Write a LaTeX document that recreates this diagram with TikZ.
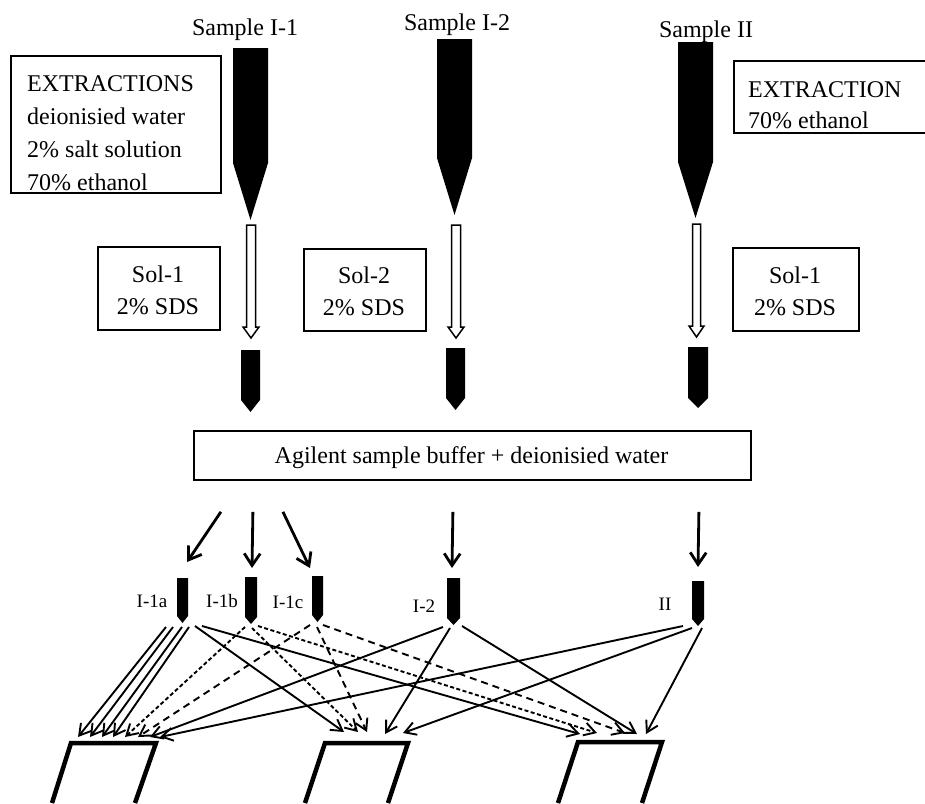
\documentclass[tikz,border=0pt]{standalone}
\usepackage{fontspec}
\setmainfont{Liberation Serif}
\usetikzlibrary{arrows.meta,calc}
\begin{document}
\begin{tikzpicture}[x=1pt,y=-1pt,
  tube/.style={fill=black},
  box/.style={draw,line width=1.8pt,inner sep=0pt},
  txt/.style={font=\fontsize{24}{28}\selectfont,inner sep=0pt},
  lab/.style={font=\fontsize{19}{22}\selectfont,inner sep=0pt,anchor=base},
  hollow/.style={draw,line width=1.5pt,fill=white},
  feed/.style={line width=2.8pt,-{Straight Barb[length=12pt,width=16pt]}},
  conn/.style={line width=1.9pt,-{Straight Barb[length=11pt,width=13pt]}},
  shortdash/.style={dash pattern=on 4pt off 2.5pt},
  longdash/.style={dash pattern=on 7pt off 5pt},
  tray/.style={line width=4.5pt,line join=miter}]
\clip (0,0) rectangle (925,803);
\fill[white] (0,0) rectangle (925,803);

% boxes
\node[box,anchor=north west,minimum width=210pt,minimum height=137pt] (ext1) at (10,55) {};
\node[box,anchor=north west,minimum width=202pt,minimum height=72pt] (ext2) at (733,60) {};
\node[box,anchor=north west,minimum width=122pt,minimum height=83pt] (sol1) at (97,246) {};
\node[box,anchor=north west,minimum width=122pt,minimum height=82pt] (sol2) at (303,248) {};
\node[box,anchor=north west,minimum width=126pt,minimum height=83pt] (sol3) at (732,247) {};
\node[box,anchor=north west,minimum width=557pt,minimum height=49pt] (buf) at (193,430) {};

% texts
\node[txt,anchor=base] (s1) at (245,35) {Sample I-1};
\node[txt,anchor=base] (s2) at (457,30) {Sample I-2};
\node[txt,anchor=base] (s3) at (706,37.5) {Sample II};
\node[txt,anchor=base west] (e1a) at (27,91) {EXTRACTIONS};
\node[txt,anchor=base west] (e1b) at (27,124) {deionisied water};
\node[txt,anchor=base west] (e1c) at (27,157) {2\% salt solution};
\node[txt,anchor=base west] (e1d) at (27,190) {70\% ethanol};
\node[txt,anchor=base west] (e2a) at (748,97) {EXTRACTION};
\node[txt,anchor=base west] (e2b) at (748,128) {70\% ethanol};
\node[txt,anchor=base] (so1a) at (158,282) {Sol-1};
\node[txt,anchor=base] (so1b) at (158,314) {2\% SDS};
\node[txt,anchor=base] (so2a) at (364,283) {Sol-2};
\node[txt,anchor=base] (so2b) at (364,315) {2\% SDS};
\node[txt,anchor=base] (so3a) at (795,283) {Sol-1};
\node[txt,anchor=base] (so3b) at (795,315) {2\% SDS};
\node[txt,anchor=base] (buft) at (471.5,463) {Agilent sample buffer + deionisied water};
\node[lab] (l1a) at (152,607) {I-1a};
\node[lab] (l1b) at (222,607) {I-1b};
\node[lab] (l1c) at (288,608) {I-1c};
\node[lab] (l2) at (424,612) {I-2};
\node[lab] (l3) at (665,610) {II};

% big tubes
\fill[tube] (233,48) -- (268,48) -- (268,163) -- (250.5,220) -- (233,163) -- cycle;
\fill[tube] (437,39) -- (472,39) -- (472,158) -- (454.5,215) -- (437,158) -- cycle;
\fill[tube] (678,42) -- (713,42) -- (713,162) -- (695.5,218) -- (678,162) -- cycle;
\coordinate (t1) at (251,220);
\coordinate (t2) at (456,220);
\coordinate (t3) at (696.5,219);

% hollow arrows
\draw[hollow] ($(t1)+(-4.5,5)$) -- ++(0,102) -- ++(-3.5,0) -- ++(8,11) -- ++(8,-11) -- ++(-3.5,0) -- ++(0,-102) -- cycle;
\draw[hollow] ($(t2)+(-4.5,5)$) -- ++(0,102) -- ++(-3.5,0) -- ++(8,11) -- ++(8,-11) -- ++(-3.5,0) -- ++(0,-102) -- cycle;
\draw[hollow] ($(t3)+(-4,5)$) -- ++(0,102) -- ++(-3.5,0) -- ++(7.5,11) -- ++(7.5,-11) -- ++(-3.5,0) -- ++(0,-102) -- cycle;

% small tubes
\fill[tube] (241,350) -- (260,350) -- (260,400) -- (250.5,412) -- (241,400) -- cycle;
\fill[tube] (446,348) -- (465,348) -- (465,398) -- (455.5,410) -- (446,398) -- cycle;
\fill[tube] (688,347) -- (708,347) -- (708,398) -- (698,408) -- (688,398) -- cycle;

% vials
\fill[tube] (177,578) -- (188,578) -- (188,616) -- (182.5,623) -- (177,616) -- cycle;
\fill[tube] (245,577) -- (257,577) -- (257,617) -- (251,624) -- (245,617) -- cycle;
\fill[tube] (312,576) -- (323,576) -- (323,615) -- (317.5,622) -- (312,615) -- cycle;
\fill[tube] (447,578) -- (460,578) -- (460,618) -- (453.5,625) -- (447,618) -- cycle;
\fill[tube] (692,581) -- (704,581) -- (704,619) -- (698,626) -- (692,619) -- cycle;
\coordinate (n1a) at (182.5,578);
\coordinate (n1b) at (251,577);
\coordinate (n1c) at (317.5,576);
\coordinate (n2) at (453.5,578);
\coordinate (n3) at (698,581);
\coordinate (v1a) at (182.5,623);
\coordinate (v1b) at (251,624);
\coordinate (v1c) at (317.5,622);
\coordinate (v2) at (453.5,625);
\coordinate (v3) at (698,626);

% feed arrows from buffer
\draw[feed] ($(buf.south)+(-251.5,31)$) -- ($(n1a)+(4.5,-16)$);
\draw[feed] ($(buf.south)+(-219.5,31)$) -- ($(n1b)+(1,-9)$);
\draw[feed] ($(buf.south)+(-189.5,31)$) -- ($(n1c)+(-7.5,-8)$);
\draw[feed] ($(buf.south)+(-19.5,31)$) -- ($(n2)+(-1.5,-10)$);
\draw[feed] ($(buf.south)+(226.5,31)$) -- ($(n3)+(0,-14)$);

% trays
\coordinate (p1) at (71,743);
\coordinate (p2) at (325,743);
\coordinate (p3) at (578,742);
\draw[tray] (52,803) -- (p1) -- (156,743) -- (135,803);
\draw[tray] (305,803) -- (p2) -- (408,743) -- (388,803);
\draw[tray] (558,803) -- (p3) -- (662,742) -- (642,803);

% connectors I-1a
\draw[conn] ($(v1a)+(-16.5,4)$) -- ($(p1)+(7,-6)$);
\draw[conn] ($(v1a)+(-9.5,4)$) -- ($(p1)+(19,-6)$);
\draw[conn] ($(v1a)+(-0.5,4)$) -- ($(p1)+(31,-6)$);
\draw[conn] ($(v1a)+(6.5,4)$) -- ($(p1)+(42,-6)$);
\draw[conn] ($(v1a)+(12.5,3)$) -- ($(p2)+(19,-11)$);
\draw[conn] ($(v1a)+(19.5,3)$) -- ($(p3)+(2,-8)$);
% I-1b
\draw[conn,shortdash] ($(v1b)+(-6,3)$) -- ($(p1)+(54,-6)$);
\draw[conn,shortdash] ($(v1b)+(1,4)$) -- ($(p2)+(33,-11)$);
\draw[conn,shortdash] ($(v1b)+(7,2)$) -- ($(p3)+(19,-9)$);
% I-1c
\draw[conn,longdash] ($(v1c)+(-7.5,3)$) -- ($(p1)+(67,-6)$);
\draw[conn,longdash] ($(v1c)+(-0.5,5)$) -- ($(p2)+(42,-11)$);
\draw[conn,longdash] ($(v1c)+(5.5,3)$) -- ($(p3)+(47,-9)$);
% I-2
\draw[conn] ($(v2)+(-10.5,2)$) -- ($(p1)+(79,-6)$);
\draw[conn] ($(v2)+(-3.5,3)$) -- ($(p2)+(60,-9)$);
\draw[conn] ($(v2)+(8.5,1)$) -- ($(p3)+(59,-8)$);
% II
\draw[conn] ($(v3)+(-15,0)$) -- ($(p1)+(89,-6)$);
\draw[conn] ($(v3)+(-6,2)$) -- ($(p2)+(78,-10)$);
\draw[conn] ($(v3)+(4,2)$) -- ($(p3)+(68,-8)$);
\end{tikzpicture}
\end{document}
